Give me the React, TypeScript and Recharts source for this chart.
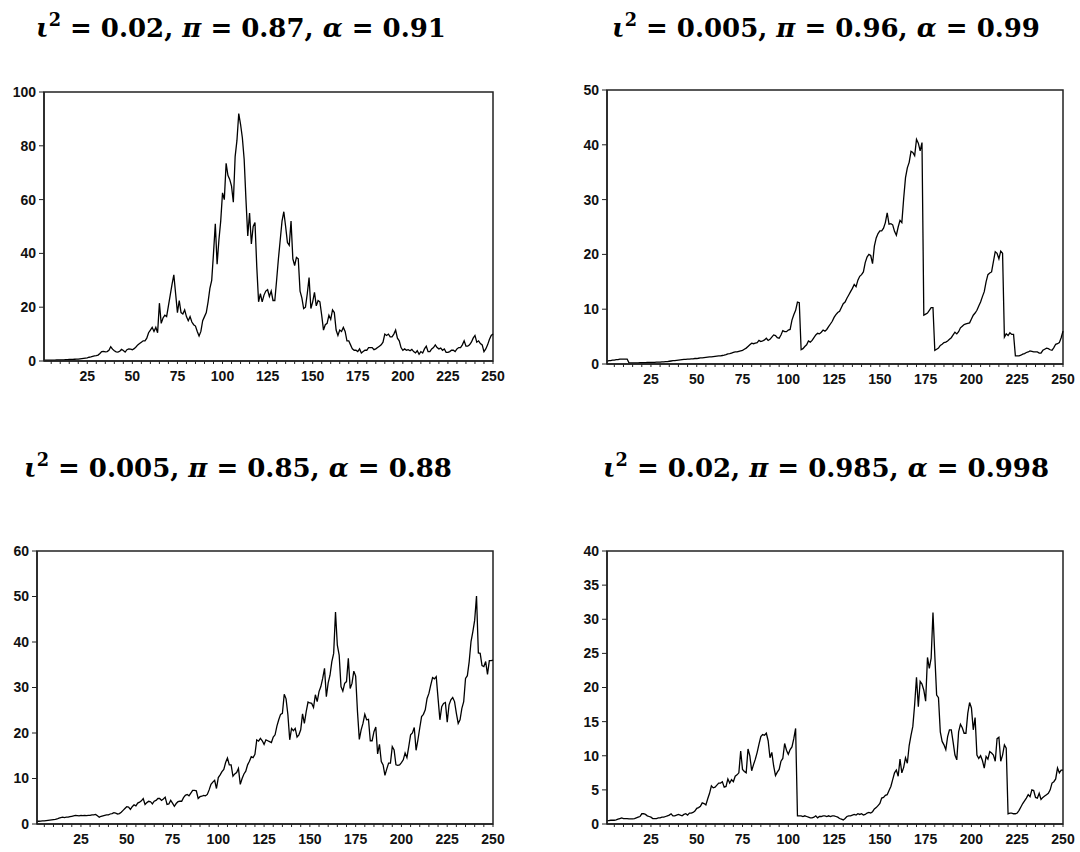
import React from "react";
import { Line, LineChart, ReferenceArea, XAxis, YAxis } from "recharts";

// time index 1..250 shared by all four panels
const periods = Array.from({ length: 250 }, (_, i) => i + 1);
const xTicks = Array.from({ length: 50 }, (_, i) => (i + 1) * 5);

const ticksA = [0, 20, 40, 60, 80, 100];
const ticksB = [0, 10, 20, 30, 40, 50];
const ticksC = [0, 10, 20, 30, 40, 50, 60];
const ticksD = [0, 5, 10, 15, 20, 25, 30, 35, 40];

// iota^2 = 0.02, pi = 0.87, alpha = 0.91
const seriesA = [
  0.3, 0.3, 0.3, 0.3, 0.35, 0.35, 0.35, 0.4, 0.4, 0.4,
  0.45, 0.45, 0.5, 0.5, 0.55, 0.6, 0.6, 0.65, 0.7, 0.7,
  0.8, 0.9, 1.0, 1.1, 1.2, 1.4, 1.5, 1.7, 1.9, 2.0,
  2.2, 2.8, 3.5, 3.6, 3.4, 3.5, 4.0, 5.3, 4.4, 3.8,
  3.4, 3.3, 3.6, 4.3, 3.9, 3.3, 4.2, 4.5, 4.4, 4.2,
  4.6, 5.2, 6.0, 6.5, 7.0, 7.5, 7.5, 8.5, 10.5, 11.5,
  12.5, 11.0, 12.5, 10.5, 21.5, 14.0, 16.0, 17.0, 16.5, 20.5,
  24.5, 28.5, 32.0, 25.0, 18.0, 22.5, 18.0, 17.5, 19.0, 16.5,
  15.0, 16.5, 14.5, 13.5, 13.0, 11.0, 9.3, 11.0, 15.0, 16.5,
  18.0, 22.0, 27.0, 30.0, 40.0, 51.0, 36.0, 45.0, 52.0, 62.5,
  60.0, 73.5, 69.0, 67.5, 65.0, 59.0, 76.0, 82.0, 92.0, 88.0,
  83.0, 75.0, 60.0, 46.5, 55.0, 43.5, 50.0, 51.5, 35.0, 22.0,
  25.0, 22.0, 24.5, 26.0, 26.5, 24.0, 26.0, 22.5, 22.5, 30.0,
  38.0, 45.0, 52.0, 55.5, 50.0, 44.0, 43.0, 52.0, 38.0, 35.5,
  38.5, 38.0, 26.0, 23.5, 19.5, 20.0, 25.0, 31.0, 19.5, 22.0,
  25.5, 20.5, 22.5, 22.0, 17.0, 11.5, 13.5, 14.0, 17.0, 15.5,
  19.0, 18.0, 11.5, 9.5, 11.5, 11.0, 12.5, 11.0, 7.5, 7.5,
  6.0, 4.5, 4.0, 4.0, 3.5, 4.5, 3.0, 3.5, 4.0, 4.0,
  5.0, 5.0, 5.0, 4.2, 4.5, 5.0, 5.5, 6.0, 7.0, 10.0,
  9.5, 10.0, 9.0, 9.0, 10.0, 11.5, 8.5, 7.5, 5.0, 4.0,
  4.5, 4.0, 4.2, 3.8, 4.3, 3.5, 3.0, 3.8, 2.5, 3.5,
  3.0, 4.5, 5.5, 3.5, 3.5, 4.5, 5.0, 6.0, 5.0, 4.5,
  4.8, 4.0, 4.5, 3.2, 3.2, 3.5, 4.0, 4.0, 3.5, 4.5,
  5.0, 5.0, 6.0, 7.5, 5.5, 5.5, 6.0, 7.0, 8.5, 9.5,
  7.0, 7.5, 6.5, 6.0, 3.5, 4.5, 6.0, 8.0, 9.5, 10.0,
];

// iota^2 = 0.005, pi = 0.96, alpha = 0.99
const seriesB = [
  0.5, 0.6, 0.6, 0.7, 0.7, 0.8, 0.8, 0.9, 0.9, 0.9,
  0.9, 0.9, 0.2, 0.2, 0.2, 0.2, 0.2, 0.2, 0.25, 0.25,
  0.25, 0.25, 0.3, 0.3, 0.3, 0.3, 0.3, 0.35, 0.35, 0.35,
  0.4, 0.4, 0.45, 0.45, 0.5, 0.55, 0.6, 0.6, 0.65, 0.7,
  0.75, 0.8, 0.85, 0.85, 0.9, 0.9, 0.95, 0.95, 1.0, 1.0,
  1.05, 1.1, 1.1, 1.15, 1.2, 1.25, 1.3, 1.3, 1.35, 1.4,
  1.45, 1.5, 1.5, 1.55, 1.6, 1.7, 1.85, 1.9, 2.0, 2.1,
  2.2, 2.2, 2.3, 2.4, 2.5, 2.7, 2.9, 3.2, 3.5, 3.8,
  3.7, 3.8, 3.9, 4.3, 4.1, 4.2, 4.4, 4.7, 4.3, 4.5,
  4.9, 5.3, 5.2, 4.8, 4.7, 5.3, 6.1, 5.9, 5.9, 6.2,
  6.3, 8.0, 9.0, 9.8, 11.3, 11.2, 2.6, 2.8, 3.2, 3.5,
  4.2, 4.0, 4.3, 4.8, 5.3, 5.6, 5.5, 5.8, 6.2, 6.0,
  6.3, 6.8, 7.3, 7.8, 8.5, 9.0, 9.4, 9.6, 10.3, 11.0,
  11.3, 12.0, 12.6, 13.2, 13.8, 14.5, 14.1, 15.3, 16.0, 16.3,
  16.8, 18.5, 19.5, 20.0, 19.8, 18.3, 21.5, 23.0, 23.8, 24.3,
  24.3, 24.8, 25.8, 27.6, 25.5, 25.6, 25.4, 24.2, 23.5, 25.0,
  26.2, 25.8, 30.2, 34.0, 35.8, 36.8, 38.8, 38.6, 38.0, 41.0,
  40.3, 38.9, 40.4, 8.9, 9.1, 9.3, 9.8, 10.3, 10.3, 2.5,
  2.7, 2.9, 3.4, 3.6, 3.9, 4.0, 4.2, 4.5, 4.8, 5.3,
  5.8, 5.5, 5.9, 6.6, 6.9, 7.2, 7.3, 7.4, 7.5, 8.2,
  8.9, 9.3, 9.8, 10.6, 11.3, 12.3, 13.2, 15.0, 16.3, 16.6,
  16.8, 18.7, 20.5, 20.2, 19.2, 20.6, 20.2, 4.9, 5.5, 5.2,
  5.7, 5.4, 5.4, 1.5, 1.5, 1.5, 1.6, 1.8, 1.9, 2.1,
  2.2, 2.4, 2.3, 2.2, 2.2, 2.2, 2.0, 2.0, 2.5, 2.7,
  2.9, 2.8, 2.6, 2.5, 3.0, 3.6, 3.7, 3.9, 4.8, 6.0,
];

// iota^2 = 0.005, pi = 0.85, alpha = 0.88
const seriesC = [
  0.6, 0.6, 0.65, 0.7, 0.7, 0.75, 0.8, 0.85, 0.9, 0.95,
  1.0, 1.1, 1.3, 1.4, 1.5, 1.4, 1.5, 1.5, 1.6, 1.7,
  1.8, 1.9, 1.85, 1.8, 1.9, 1.85, 1.9, 1.85, 1.9, 1.9,
  2.0, 2.0, 2.1, 1.8, 1.5, 1.7, 1.8, 1.9, 2.0, 2.0,
  2.2, 2.3, 2.5, 2.4, 2.2, 2.3, 2.6, 3.0, 3.4, 3.8,
  3.7, 3.2, 3.8, 4.2, 4.0, 4.6, 4.8, 5.1, 5.6, 4.3,
  4.7, 5.0, 4.9, 4.4, 5.0, 5.2, 5.6, 5.6, 5.2, 5.5,
  5.9, 4.3, 4.4, 5.2, 4.6, 3.9, 4.5, 4.9, 5.0, 5.0,
  5.8, 6.3, 6.5, 6.2, 6.8, 7.4, 7.4, 7.3, 5.6, 6.0,
  6.1, 6.3, 6.2, 6.5, 7.5, 8.7, 9.2, 9.6, 7.8, 10.2,
  10.8, 11.5, 12.0, 13.5, 14.5, 13.0, 13.0, 10.5, 11.0, 11.3,
  12.2, 8.7, 10.0, 11.0, 11.6, 13.0, 13.8, 14.8, 14.6, 15.3,
  18.5, 18.2, 18.8, 18.3, 17.5, 18.5, 18.3, 18.1, 17.9, 19.1,
  19.6, 21.5, 22.9, 24.1, 24.3, 28.5, 27.5, 24.0, 18.5, 21.0,
  20.5, 21.0, 19.1, 19.6, 20.7, 24.2, 22.1, 24.7, 26.8, 26.6,
  26.5, 25.6, 28.4, 26.9, 29.1, 30.2, 32.0, 34.2, 28.0, 31.0,
  32.7, 35.7, 37.5, 46.6, 39.3, 37.1, 30.2, 29.2, 30.9, 31.3,
  36.4, 29.8, 30.9, 33.6, 32.5, 24.7, 18.6, 20.7, 22.1, 24.1,
  22.9, 23.0, 18.3, 18.3, 20.3, 21.3, 15.4, 17.5, 13.7, 13.0,
  10.7, 12.1, 13.4, 13.4, 17.0, 16.3, 13.0, 12.9, 13.0, 13.5,
  14.1, 15.6, 14.6, 17.0, 19.6, 20.0, 21.2, 16.2, 18.5, 21.1,
  23.6, 24.1, 25.1, 27.6, 28.7, 30.5, 32.2, 31.9, 32.4, 27.6,
  22.9, 25.8, 26.5, 26.7, 22.4, 26.2, 27.3, 27.8, 26.9, 24.3,
  22.1, 22.9, 25.4, 26.9, 32.0, 32.6, 35.7, 40.1, 42.3, 44.8,
  50.1, 37.6, 37.5, 34.8, 34.6, 35.7, 32.9, 35.9, 35.9, 36.0,
];

// iota^2 = 0.02, pi = 0.985, alpha = 0.998
const seriesD = [
  0.5, 0.5, 0.55, 0.55, 0.55, 0.6, 0.7, 0.8, 0.9, 0.8,
  0.8, 0.8, 0.75, 0.75, 0.75, 0.8, 0.9, 1.0, 1.1, 1.5,
  1.5, 1.4, 1.2, 1.1, 1.0, 0.8, 0.8, 0.8, 0.9, 0.9,
  1.0, 1.0, 1.1, 1.2, 1.3, 1.5, 1.2, 1.2, 1.3, 1.4,
  1.3, 1.2, 1.4, 1.5, 1.3, 1.6, 1.6, 1.7, 1.9, 2.3,
  2.4, 2.6, 3.1, 3.0, 2.8, 3.7, 4.5, 5.6, 5.3, 5.4,
  5.7, 6.0, 6.0, 6.2, 5.4, 5.5, 6.6, 6.0, 6.5, 6.2,
  7.0, 7.2, 7.5, 10.7, 8.0, 7.7, 7.5, 11.0, 10.0, 7.8,
  8.7, 9.5, 10.5, 11.7, 12.8, 13.1, 13.0, 13.3, 12.2, 9.7,
  10.5, 8.5, 7.1, 7.6, 8.0, 9.2, 9.6, 11.8, 10.8, 10.2,
  10.9, 11.3, 12.5, 14.0, 1.2, 1.2, 1.2, 1.1, 1.2, 1.1,
  1.0, 0.9, 0.9, 1.0, 1.2, 0.9, 1.1, 1.1, 1.2, 1.2,
  1.1, 1.2, 1.1, 1.2, 1.2, 1.1, 1.0, 0.8, 0.7, 0.6,
  0.8, 1.1, 1.2, 1.2, 1.3, 1.4, 1.3, 1.5, 1.4, 1.5,
  1.3, 1.4, 1.6, 1.7, 1.6, 1.8, 2.2, 2.4, 2.7, 3.0,
  3.8, 3.9, 4.2, 4.3, 4.9, 5.5, 6.5, 7.5, 7.9, 7.0,
  9.5, 7.5, 8.3, 9.7, 8.9, 11.5, 13.0, 14.3, 17.5, 21.5,
  17.2, 20.9, 20.5, 19.6, 18.0, 24.4, 22.8, 24.3, 31.0, 24.7,
  18.9, 18.5, 13.5, 12.1, 11.6, 10.9, 12.8, 13.8, 13.8, 12.0,
  10.1, 9.4, 13.5, 14.6, 14.1, 13.3, 13.3, 16.2, 17.8, 17.0,
  13.8, 15.6, 10.1, 9.6, 10.0, 9.3, 8.2, 9.9, 9.5, 10.6,
  10.4, 10.1, 9.2, 12.5, 12.7, 9.2, 10.1, 11.6, 11.1, 1.5,
  1.6, 1.6, 1.5, 1.5, 1.6, 2.0, 2.5, 3.0, 3.4, 3.8,
  4.3, 4.0, 5.0, 4.9, 3.9, 3.8, 4.5, 3.6, 3.9, 4.1,
  4.3, 4.5, 5.0, 6.0, 6.2, 6.6, 8.2, 7.5, 7.9, 7.9,
];

const Y_W = 50;
const M_TOP = 12;
const M_RIGHT = 15;
const X_H = 28;
const AXIS = "#222";
const tickFont = {
  fontFamily: "'Liberation Sans', Arial, sans-serif",
  fontSize: 14,
  fontWeight: 700,
  fill: "#111",
};

type Rect = { left: number; top: number; width: number; height: number };

function Title({ iota, pi, alpha, cx, baseline }: { iota: string; pi: string; alpha: string; cx: number; baseline: number }) {
  return (
    <div
      style={{
        position: "absolute",
        left: cx - 300,
        top: baseline - 22,
        width: 600,
        textAlign: "center",
        fontFamily: "'DejaVu Serif', serif",
        fontWeight: 700,
        fontSize: 26,
        lineHeight: 1,
        whiteSpace: "nowrap",
        color: "#000",
      }}
    >
      <i>ι</i>
      <span style={{ fontSize: "0.68em", position: "relative", top: "-0.6em" }}>2</span> = {iota}, <i>π</i> = {pi},{" "}
      <i>α</i> = {alpha}
    </div>
  );
}

function Panel({ values, yTicks, plot }: { values: number[]; yTicks: number[]; plot: Rect }) {
  const data = periods.map((t, i) => ({ t, v: values[i] }));
  const yMax = yTicks[yTicks.length - 1];
  return (
    <div style={{ position: "absolute", left: plot.left - Y_W, top: plot.top - M_TOP }}>
      <LineChart
        width={Y_W + plot.width + M_RIGHT}
        height={M_TOP + plot.height + X_H}
        data={data}
        margin={{ top: M_TOP, right: M_RIGHT, bottom: 0, left: 0 }}
      >
        <XAxis
          dataKey="t"
          type="number"
          domain={[1, 250]}
          ticks={xTicks}
          interval={0}
          tickFormatter={(v: number) => (v % 25 === 0 ? String(v) : "")}
          tickSize={3}
          tickMargin={7}
          height={X_H}
          axisLine={{ stroke: AXIS, strokeWidth: 1.5 }}
          tickLine={{ stroke: AXIS }}
          tick={tickFont}
        />
        <YAxis
          type="number"
          domain={[0, yMax]}
          ticks={yTicks}
          interval={0}
          width={Y_W}
          tickSize={5}
          tickMargin={3}
          axisLine={{ stroke: AXIS, strokeWidth: 1.5 }}
          tickLine={{ stroke: AXIS }}
          tick={tickFont}
        />
        <ReferenceArea
          x1={1}
          x2={250}
          y1={0}
          y2={yMax}
          fill="none"
          stroke={AXIS}
          strokeWidth={1.5}
          ifOverflow="visible"
        />
        <Line
          type="linear"
          dataKey="v"
          stroke="#000"
          strokeWidth={1.3}
          dot={false}
          isAnimationActive={false}
        />
      </LineChart>
    </div>
  );
}

export default function App() {
  return (
    <div
      style={{
        position: "fixed",
        left: 0,
        top: 0,
        width: 1080,
        height: 852,
        overflow: "hidden",
        background: "#fff",
      }}
    >
      <Title iota="0.02" pi="0.87" alpha="0.91" cx={241} baseline={37} />
      <Title iota="0.005" pi="0.96" alpha="0.99" cx={826} baseline={37} />
      <Title iota="0.005" pi="0.85" alpha="0.88" cx={238} baseline={477} />
      <Title iota="0.02" pi="0.985" alpha="0.998" cx={826} baseline={477} />
      <Panel values={seriesA} yTicks={ticksA} plot={{ left: 44, top: 92, width: 449, height: 269 }} />
      <Panel values={seriesB} yTicks={ticksB} plot={{ left: 607, top: 90, width: 456, height: 274 }} />
      <Panel values={seriesC} yTicks={ticksC} plot={{ left: 37, top: 551, width: 456, height: 273 }} />
      <Panel values={seriesD} yTicks={ticksD} plot={{ left: 607, top: 551, width: 456, height: 273 }} />
    </div>
  );
}
